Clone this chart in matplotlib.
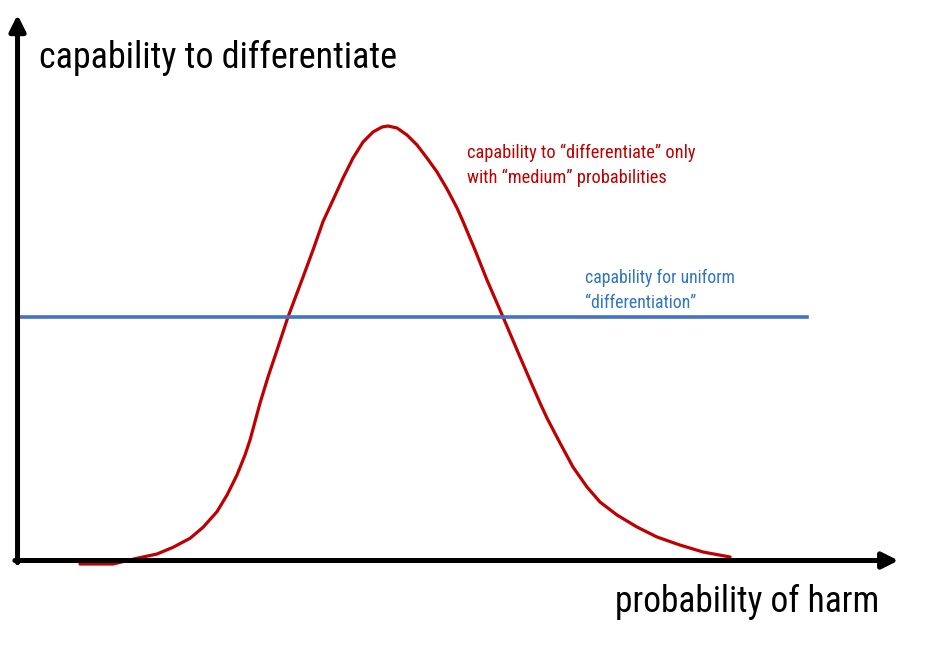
import matplotlib
matplotlib.use("Agg")
import matplotlib.pyplot as plt

plt.rcParams["font.family"] = ["Roboto Condensed", "DejaVu Sans"]

# curve: probability of harm (0-100) vs capability (0-100)
harm_prob = [7.09, 10.84, 13.56, 15.83, 17.65, 19.58, 21.06, 22.64, 23.78, 24.91,
             25.82, 26.39, 27.53, 28.43, 29.46, 30.70, 32.41, 33.54, 34.68, 35.81,
             36.95, 38.08, 39.22, 40.35, 41.37, 42.05, 43.08, 44.21, 45.35, 46.48,
             47.62, 48.75, 49.89, 50.57, 51.93, 53.29, 55.11, 57.04, 58.17, 59.31,
             60.10, 61.58, 63.05, 64.64, 66.12, 68.05, 70.32, 72.59, 75.20, 77.81,
             80.88]
medium_cap = [-0.64, -0.64, 0.41, 1.20, 2.43, 4.09, 6.12, 8.99, 12.06, 15.75,
              19.43, 22.19, 29.01, 33.79, 38.77, 44.84, 52.21, 57.18, 62.43, 66.39,
              70.44, 74.12, 77.07, 78.91, 79.83, 80.02, 79.65, 78.36, 76.52, 74.12,
              71.55, 68.42, 64.92, 62.43, 57.18, 51.66, 44.84, 37.48, 33.24, 29.01,
              26.24, 21.64, 17.22, 13.54, 10.77, 8.38, 6.17, 4.33, 2.85, 1.57,
              0.65]

uniform_x = [0, 89.6]
uniform_cap = [44.8, 44.8]

ylabel = "capability to differentiate"
xlabel = "probability of harm"
medium_label = "capability to \u201cdifferentiate\u201d only\nwith \u201cmedium\u201d probabilities"
uniform_label = "capability for uniform\n\u201cdifferentiation\u201d"

fig = plt.figure(figsize=(9.42, 6.48), dpi=100)
ax = fig.add_axes([0, 0, 1, 1])
ax.set_xlim(-1.99, 104.94)
ax.set_ylim(-16.11, 103.22)
ax.axis("off")

ax.plot(harm_prob, medium_cap, color="#C00000", lw=2.3, zorder=2,
        solid_capstyle="round", solid_joinstyle="round")
ax.plot(uniform_x, uniform_cap, color="#4472C4", lw=2.6, zorder=2)

# axes as arrows
arrow = dict(arrowstyle="-|>", lw=3.6, color="black", mutation_scale=24,
             shrinkA=0, shrinkB=0)
ax.annotate("", xy=(100, 0), xytext=(-0.3, 0), arrowprops=arrow, zorder=3)
ax.annotate("", xy=(0, 100.5), xytext=(0, -0.4), arrowprops=arrow, zorder=3)

ax.text(2.44, 90.7, ylabel, fontsize=26, ha="left", va="baseline")
ax.text(97.8, -9.5, xlabel, fontsize=25.6, ha="right", va="baseline")
ax.text(51.0, 69.5, medium_label, fontsize=13.2, color="#C00000",
        ha="left", va="baseline", linespacing=1.5)
ax.text(64.4, 46.5, uniform_label, fontsize=12.8, color="#2E75C6",
        ha="left", va="baseline", linespacing=1.5)

fig.savefig("out.png", dpi=100)
